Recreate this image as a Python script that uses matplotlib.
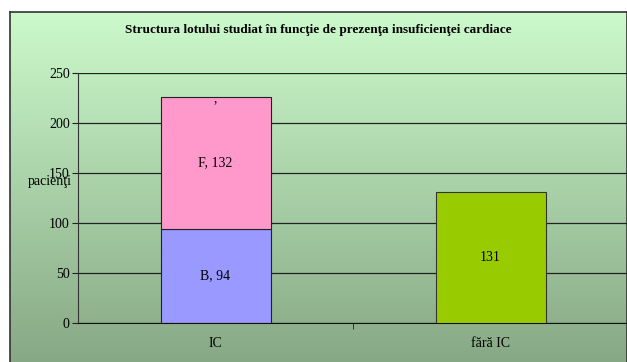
import numpy as np
import matplotlib
matplotlib.use("Agg")
import matplotlib.pyplot as plt

plt.rcParams["font.family"] = ["Liberation Serif", "DejaVu Serif"]

categories = ["IC", "fără IC"]
b_values = [94, 0]
f_values = [132, 0]
top_values = [0, 0]
other_values = [0, 131]
b_labels = ["B, 94", ""]
f_labels = ["F, 132", ""]
top_labels = [",", ""]
other_labels = ["", "131"]
yticks = [0, 50, 100, 150, 200, 250]

fig = plt.figure(figsize=(6.27, 3.62), dpi=100)

# chart area background with vertical gradient
bg = fig.add_axes([10 / 627, 0, 1 - 10 / 627, 1 - 12 / 362], zorder=0)
grad = np.linspace(0, 1, 256).reshape(-1, 1)
top = np.array([0.80, 0.98, 0.80])
bottom = np.array([0.53, 0.66, 0.52])
img = top + (bottom - top) * grad[:, :, None]
bg.imshow(img, aspect="auto", extent=[0, 1, 0, 1])
bg.set_xlim(0, 1)
bg.set_ylim(0, 1)
bg.set_xticks([])
bg.set_yticks([])
for s in bg.spines.values():
    s.set_color("#333333")
    s.set_linewidth(1.2)
bg.spines["bottom"].set_visible(False)

bg.text(0.5, 1 - 18 / 350, "Structura lotului studiat în funcţie de prezenţa insuficienţei cardiace",
        ha="center", va="center", fontsize=9.5, fontweight="bold", transform=bg.transAxes)

ax = fig.add_axes([78 / 627, (362 - 323) / 362, 550 / 627, 250 / 362], zorder=1)
ax.patch.set_alpha(0)
x = np.arange(len(categories))
w = 0.4
ax.bar(x, b_values, w, color="#9999ff", edgecolor="#222222", linewidth=0.8, zorder=3)
ax.bar(x, f_values, w, bottom=b_values, color="#ff99cc", edgecolor="#222222",
       linewidth=0.8, zorder=3)
ax.bar(x, other_values, w, color="#99cc00", edgecolor="#333333", linewidth=0.8, zorder=3)

for i in range(len(categories)):
    if b_labels[i]:
        ax.text(x[i], b_values[i] / 2, b_labels[i], ha="center", va="center", fontsize=10, zorder=4)
    if f_labels[i]:
        ax.text(x[i], b_values[i] + f_values[i] / 2, f_labels[i], ha="center", va="center",
                fontsize=10, zorder=4)
    if top_labels[i]:
        ax.text(x[i], b_values[i] + f_values[i] + top_values[i] - 2, top_labels[i],
                ha="center", va="center", fontsize=10, zorder=4)
    if other_labels[i]:
        ax.text(x[i], other_values[i] / 2, other_labels[i], ha="center", va="center",
                fontsize=10, zorder=4)

ax.set_xlim(-0.5, 1.5)
ax.set_ylim(0, 250)
ax.set_yticks(yticks)
ax.set_yticklabels([str(v) for v in yticks], fontsize=10)
ax.set_xticks(x)
ax.set_xticklabels(categories, fontsize=10)
ax.set_xticks([0.5], minor=True)
ax.tick_params(axis="x", which="major", length=0, pad=10)
ax.tick_params(axis="x", which="minor", length=4, direction="out", color="#222222")
ax.tick_params(axis="y", length=4, direction="out", color="#222222", pad=2)
ax.yaxis.grid(True, color="#222222", linewidth=0.9, zorder=1)
ax.set_axisbelow(True)
for k in ["top", "right"]:
    ax.spines[k].set_visible(False)
ax.spines["left"].set_color("#333333")
ax.spines["bottom"].set_color("#111111")

fig.text(28 / 627, 1 - 181 / 362, "pacienţi", fontsize=10, ha="left", va="center")

fig.savefig("out.png", dpi=100, facecolor="white")
